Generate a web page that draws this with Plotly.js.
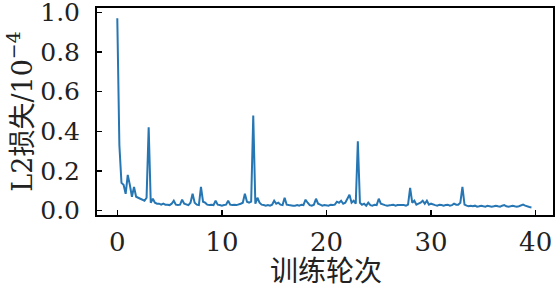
<!DOCTYPE html>
<html>
<head>
<meta charset="utf-8">
<script src="https://cdn.plot.ly/plotly-3.0.1.min.js"></script>
<style>html,body{margin:0;padding:0;background:#fff;}#chart{width:559px;height:288px;}</style>
</head>
<body>
<div id="chart"></div>
<script>
// training epochs (5 samples per epoch)
const epochs = [
 0,0.2,0.4,0.6,0.8, 1,1.2,1.4,1.6,1.8, 2,2.2,2.4,2.6,2.8, 3,3.2,3.4,3.6,3.8,
 4,4.2,4.4,4.6,4.8, 5,5.2,5.4,5.6,5.8, 6,6.2,6.4,6.6,6.8, 7,7.2,7.4,7.6,7.8,
 8,8.2,8.4,8.6,8.8, 9,9.2,9.4,9.6,9.8, 10,10.2,10.4,10.6,10.8, 11,11.2,11.4,11.6,11.8,
 12,12.2,12.4,12.6,12.8, 13,13.2,13.4,13.6,13.8, 14,14.2,14.4,14.6,14.8, 15,15.2,15.4,15.6,15.8,
 16,16.2,16.4,16.6,16.8, 17,17.2,17.4,17.6,17.8, 18,18.2,18.4,18.6,18.8, 19,19.2,19.4,19.6,19.8,
 20,20.2,20.4,20.6,20.8, 21,21.2,21.4,21.6,21.8, 22,22.2,22.4,22.6,22.8, 23,23.2,23.4,23.6,23.8,
 24,24.2,24.4,24.6,24.8, 25,25.2,25.4,25.6,25.8, 26,26.2,26.4,26.6,26.8, 27,27.2,27.4,27.6,27.8,
 28,28.2,28.4,28.6,28.8, 29,29.2,29.4,29.6,29.8, 30,30.2,30.4,30.6,30.8, 31,31.2,31.4,31.6,31.8,
 32,32.2,32.4,32.6,32.8, 33,33.2,33.4,33.6,33.8, 34,34.2,34.4,34.6,34.8, 35,35.2,35.4,35.6,35.8,
 36,36.2,36.4,36.6,36.8, 37,37.2,37.4,37.6,37.8, 38,38.2,38.4,38.6,38.8, 39,39.2,39.4,39.6
];
// L2 loss (x 1e-4)
const l2Loss = [
 0.97,0.33,0.14,0.13,0.085, 0.18,0.13,0.07,0.12,0.07, 0.065,0.06,0.055,0.05,0.065, 0.42,0.04,0.06,0.04,0.035,
 0.035,0.03,0.035,0.03,0.03, 0.028,0.035,0.05,0.03,0.028, 0.03,0.055,0.035,0.03,0.028, 0.04,0.085,0.04,0.03,0.028,
 0.12,0.045,0.04,0.03,0.028, 0.03,0.028,0.05,0.03,0.028, 0.025,0.028,0.03,0.05,0.03, 0.028,0.03,0.028,0.03,0.035,
 0.04,0.085,0.045,0.04,0.045, 0.48,0.035,0.065,0.04,0.03, 0.028,0.025,0.028,0.025,0.03, 0.05,0.035,0.04,0.03,0.028,
 0.065,0.03,0.028,0.025,0.025, 0.025,0.028,0.025,0.03,0.028, 0.055,0.04,0.028,0.025,0.03, 0.06,0.035,0.03,0.025,0.028,
 0.028,0.025,0.03,0.028,0.03, 0.045,0.04,0.05,0.035,0.04, 0.06,0.08,0.04,0.05,0.035, 0.35,0.04,0.03,0.035,0.025,
 0.04,0.028,0.025,0.03,0.028, 0.06,0.035,0.03,0.028,0.025, 0.025,0.028,0.03,0.025,0.028, 0.028,0.03,0.028,0.025,0.03,
 0.115,0.04,0.05,0.03,0.035, 0.04,0.05,0.035,0.05,0.03, 0.035,0.03,0.028,0.025,0.03, 0.028,0.025,0.028,0.03,0.025,
 0.028,0.035,0.03,0.03,0.04, 0.12,0.03,0.025,0.022,0.025, 0.022,0.025,0.02,0.022,0.025, 0.022,0.02,0.025,0.022,0.02,
 0.022,0.025,0.022,0.02,0.025, 0.028,0.022,0.02,0.022,0.025, 0.022,0.02,0.022,0.025,0.03, 0.025,0.02,0.018,0.016
];
const xTicks = [0,10,20,30,40];
const yTicks = [0.0,0.2,0.4,0.6,0.8,1.0];
const yTickText = ['0.0','0.2','0.4','0.6','0.8','1.0'];
const xTitle = '训练轮次';
const yTitle = 'L2损失/10<sup>−4</sup>';

const serif = '"DejaVu Serif", "Noto Sans CJK SC", serif';

Plotly.newPlot('chart', [{
  x: epochs, y: l2Loss, type: 'scatter', mode: 'lines',
  line: {color: '#2676b3', width: 2}
}], {
  width: 559, height: 288,
  margin: {l: 97, r: 6, t: 8, b: 73},
  paper_bgcolor: '#fff', plot_bgcolor: '#fff',
  showlegend: false,
  font: {family: serif, color: '#222', size: 26},
  xaxis: {
    range: [-1.94, 41.66], tickvals: xTicks, ticktext: xTicks.map(String),
    ticks: 'inside', ticklen: 5, tickwidth: 1.5, tickcolor: '#000',
    showline: true, linecolor: '#000', linewidth: 2, mirror: true,
    showgrid: false, zeroline: false, ticklabelstandoff: 3,
    ticklabeloverflow: 'allow',
    tickfont: {family: serif, size: 26, color: '#222'}
  },
  yaxis: {
    range: [-0.022, 1.022], tickvals: yTicks, ticktext: yTickText,
    ticks: 'inside', ticklen: 5, tickwidth: 1.5, tickcolor: '#000',
    showline: true, linecolor: '#000', linewidth: 2, mirror: true,
    showgrid: false, zeroline: false, ticklabelstandoff: 10,
    ticklabeloverflow: 'allow',
    tickfont: {family: serif, size: 25, color: '#222'},
    title: {text: yTitle, font: {family: serif, size: 27, color: '#222'}, standoff: 0}
  },
  annotations: [{
    text: xTitle, xref: 'x', x: 20, yref: 'paper', y: -0.262,
    xanchor: 'center', yanchor: 'middle', showarrow: false,
    font: {family: '"Noto Sans CJK SC", sans-serif', size: 28, color: '#222'}
  }]
}, {displayModeBar: false, staticPlot: true});
</script>
</body>
</html>
